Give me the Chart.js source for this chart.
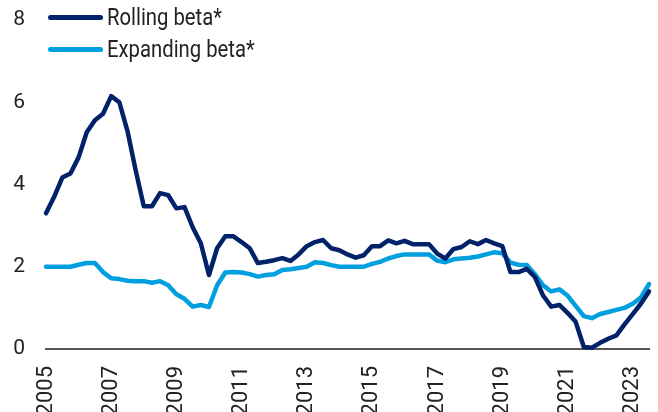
<!DOCTYPE html>
<html>
<head>
<meta charset="utf-8">
<script src="https://cdn.jsdelivr.net/npm/chart.js@4.4.0/dist/chart.umd.min.js"></script>
<style>
  html, body { margin: 0; padding: 0; background: #fff; overflow: hidden; }
  #wrap { position: relative; width: 658px; height: 412px; }
  #legend { position: absolute; left: 48px; top: 0; font-family: Roboto, sans-serif; font-size: 24px; color: #222; }
  .item { position: absolute; left: 0; white-space: nowrap; display: flex; align-items: center; height: 32px; }
  .swatch { width: 55px; height: 5px; border-radius: 3px; margin-right: 4px; flex: none; }
  .txt { display: inline-block; transform-origin: left center; }
</style>
</head>
<body>
<div id="wrap">
  <canvas id="betaChart"></canvas>
  <div id="legend"></div>
</div>
<script>
// quarterly observations, 2005Q1 .. 2023Q3
const quarters = [];
for (let y = 2005; y <= 2023; y++) {
  for (let q = 1; q <= 4; q++) {
    if (y === 2023 && q > 3) break;
    quarters.push(y + 'Q' + q);
  }
}

const rollingBeta = [
  3.30, 3.70, 4.17, 4.27, 4.66, 5.27, 5.56, 5.72, 6.15, 6.00,
  5.30, 4.35, 3.47, 3.47, 3.79, 3.74, 3.42, 3.45, 2.96, 2.57,
  1.80, 2.45, 2.74, 2.74, 2.60, 2.45, 2.09, 2.12, 2.16, 2.21,
  2.14, 2.30, 2.50, 2.60, 2.65, 2.45, 2.40, 2.30, 2.22, 2.28,
  2.50, 2.50, 2.64, 2.57, 2.63, 2.55, 2.55, 2.55, 2.32, 2.20,
  2.43, 2.48, 2.62, 2.55, 2.65, 2.57, 2.50, 1.87, 1.87, 1.95,
  1.75, 1.30, 1.03, 1.07, 0.88, 0.66, 0.05, 0.03, 0.15, 0.25,
  0.33, 0.60, 0.85, 1.10, 1.40
];

const expandingBeta = [
  2.00, 2.00, 2.00, 2.00, 2.05, 2.09, 2.09, 1.87, 1.72, 1.70,
  1.66, 1.65, 1.65, 1.61, 1.65, 1.55, 1.33, 1.22, 1.03, 1.07,
  1.02, 1.55, 1.86, 1.87, 1.86, 1.82, 1.76, 1.80, 1.82, 1.92,
  1.94, 1.97, 2.00, 2.11, 2.09, 2.04, 2.00, 2.00, 2.00, 2.00,
  2.07, 2.12, 2.20, 2.26, 2.30, 2.30, 2.30, 2.30, 2.15, 2.11,
  2.18, 2.20, 2.22, 2.25, 2.30, 2.35, 2.33, 2.10, 2.05, 2.04,
  1.82, 1.55, 1.40, 1.45, 1.30, 1.05, 0.80, 0.75, 0.85, 0.90,
  0.95, 1.00, 1.10, 1.25, 1.58
];

const yTicks = [0, 2, 4, 6, 8];

const seriesNames = ['Rolling beta*', 'Expanding beta*'];
const seriesColors = ['#012169', '#009FDF'];

const ctx = document.getElementById('betaChart').getContext('2d');
const chart = new Chart(ctx, {
  type: 'line',
  data: {
    labels: quarters,
    datasets: [rollingBeta, expandingBeta].map((values, i) => ({
      label: seriesNames[i],
      data: values,
      borderColor: seriesColors[i],
      backgroundColor: seriesColors[i],
      borderWidth: 4.5,
      borderJoinStyle: 'round',
      borderCapStyle: 'round',
      pointRadius: 0,
      tension: 0,
      clip: false,
    })),
  },
  options: {
    responsive: true,
    maintainAspectRatio: false,
    animation: false,
    layout: { padding: { top: 20, right: 9, left: 0, bottom: 0 } },
    plugins: {
      legend: { display: false },
      tooltip: { enabled: false },
    },
    scales: {
      x: {
        type: 'category',
        grid: { display: false, drawTicks: false },
        border: { display: true, color: '#555', width: 2 },
        ticks: {
          autoSkip: false,
          minRotation: 90,
          maxRotation: 90,
          padding: 17,
          color: '#222',
          font: { family: 'Roboto', size: 22 },
          callback: function (val, index) {
            const label = this.getLabelForValue(val);
            return index % 8 === 0 ? label.slice(0, 4) : '';
          },
        },
        afterFit: (scale) => {
          scale.height = 63;
          scale.paddingLeft = 0;
          scale.paddingRight = 0;
        },
      },
      y: {
        min: 0,
        max: 8,
        grid: { display: false, drawTicks: false },
        border: { display: false },
        afterBuildTicks: (scale) => { scale.ticks = yTicks.map(v => ({ value: v })); },
        ticks: { padding: 21, color: '#222', font: { family: 'Roboto', size: 21 } },
        afterFit: (scale) => {
          scale.width = 46;
          scale.paddingTop = 0;
          scale.paddingBottom = 0;
        },
      },
    },
  },
});

// html legend, text squeezed a little to mimic the condensed face
const legend = document.getElementById('legend');
chart.data.datasets.forEach((ds, i) => {
  const item = document.createElement('div');
  item.className = 'item';
  item.style.top = (1 + i * 32) + 'px';
  const sw = document.createElement('span');
  sw.className = 'swatch';
  sw.style.background = ds.borderColor;
  const txt = document.createElement('span');
  txt.className = 'txt';
  txt.textContent = ds.label;
  item.appendChild(sw);
  item.appendChild(txt);
  legend.appendChild(item);
});
const first = legend.querySelector('.txt');
const squeeze = Math.min(1, 115 / first.getBoundingClientRect().width);
legend.querySelectorAll('.txt').forEach(t => { t.style.transform = 'scaleX(' + squeeze + ')'; });
</script>
</body>
</html>
